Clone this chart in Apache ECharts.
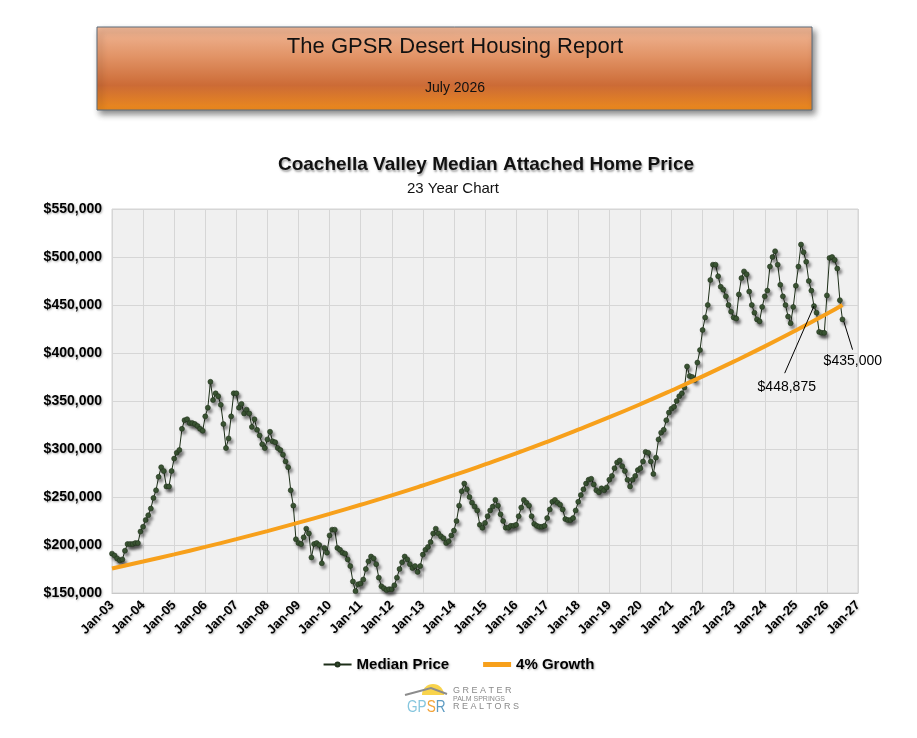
<!DOCTYPE html>
<html>
<head>
<meta charset="utf-8">
<script src="https://cdn.jsdelivr.net/npm/echarts@6/dist/echarts.min.js"></script>
<style>
html,body{margin:0;padding:0;background:#fff;}
#c{width:917px;height:738px;}
</style>
</head>
<body>
<div id="c"></div>
<script>
// ---- data (prices in $ thousands, monthly from Jan-03) ----
const tickLabels = ['Jan-03','Jan-04','Jan-05','Jan-06','Jan-07','Jan-08','Jan-09','Jan-10','Jan-11','Jan-12','Jan-13','Jan-14','Jan-15','Jan-16','Jan-17','Jan-18','Jan-19','Jan-20','Jan-21','Jan-22','Jan-23','Jan-24','Jan-25','Jan-26','Jan-27'];

const median2003_2008 = [
 191,189,186,184,185,194,201,201,201,202,202,214,
 219,226,231,238,249,257,271,281,277,261,261,277,
 290,296,299,321,330,331,327,327,326,324,321,319,
 334,343,370,351,358,355,346,326,301,311,334,358,
 358,343,347,337,341,337,323,331,320,314,305,301,
 310,318,308,307,301,299,294,287,281,257,241,206
];
const median2009_2014 = [
 202,201,208,217,212,187,201,202,200,181,197,192,
 210,216,216,197,195,192,191,185,178,162,152,159,
 160,164,175,183,188,186,180,166,157,155,153,154,
 154,158,166,175,182,188,185,180,176,178,172,178,
 190,195,198,203,212,217,212,209,207,202,204,210,
 215,225,241,256,264,258,250,244,240,236,221,218
];
const median2015_2020 = [
 223,230,236,240,247,241,232,225,218,218,220,220,
 221,230,239,247,244,241,230,222,220,219,219,220,
 228,237,245,247,244,242,237,227,226,226,228,236,
 245,252,258,264,268,269,263,257,255,259,257,260,
 268,272,280,286,288,282,277,268,261,268,272,278,
 280,287,297,296,287,274,291,310,317,320,330,338
];
const median2021_2026 = [
 342,344,350,355,358,364,386,376,375,372,390,403,
 424,437,450,476,492,492,480,469,466,459,450,443,
 437,436,461,478,485,482,464,450,442,435,433,448,
 459,465,490,500,506,492,471,459,450,438,431,448,
 470,490,513,505,495,475,465,448.875,442,422,421,421,
 460,499,500,497,488,455,435
];
const medianPrice = median2003_2008.concat(median2009_2014, median2015_2020, median2021_2026);

const growthMonths = [0,12,24,36,48,60,72,84,96,108,120,132,144,156,168,180,192,204,216,228,240,252,264,276,282];
const growthPrice = [175.6,182.8,190.2,198.0,206.1,214.5,223.3,232.4,241.9,251.7,262.0,272.7,283.9,295.4,307.5,320.1,333.1,346.7,360.9,375.6,391.0,406.9,423.5,440.8,450.0];

const noteTexts = ['$448,875','$435,000'];

// ---- chart ----
const chart = echarts.init(document.getElementById('c'));
const fontBase = "'Liberation Sans', Arial, sans-serif";
const soft = {textShadowColor:'rgba(0,0,0,0.3)', textShadowBlur:2, textShadowOffsetX:1, textShadowOffsetY:1};

const medianData = medianPrice.map((v,i)=>[i, v*1000]);
const growthData = growthMonths.map((m,i)=>[m, growthPrice[i]*1000]);

chart.setOption({
  backgroundColor:'#ffffff',
  animation:false,
  title:[
    {text:'Coachella Valley Median Attached Home Price', left:481, top:150, textAlign:'center',
     textStyle:{fontFamily:fontBase, fontSize:19, fontWeight:'bold', color:'#111',
       textShadowColor:'rgba(0,0,0,0.35)', textShadowBlur:2, textShadowOffsetX:1, textShadowOffsetY:2}},
    {text:'23 Year Chart', left:448, top:176, textAlign:'center',
     textStyle:{fontFamily:fontBase, fontSize:15, fontWeight:'normal', color:'#111'}}
  ],
  grid:{left:112, right:59, top:209, bottom:145, containLabel:false,
        show:true, backgroundColor:'#f0f0f0', borderColor:'#d4d4d4', borderWidth:1},
  xAxis:{
    type:'value', min:0, max:288, interval:12,
    axisLine:{show:true, lineStyle:{color:'#c8c8c8'}},
    axisTick:{show:false},
    splitLine:{show:true, lineStyle:{color:'#d6d6d6', width:1}},
    axisLabel:Object.assign({rotate:45, margin:10, fontFamily:fontBase, fontSize:13, fontWeight:'bold', color:'#000',
      formatter:v=>tickLabels[Math.round(v/12)] || ''}, soft)
  },
  yAxis:{
    type:'value', min:150000, max:550000, interval:50000,
    axisLine:{show:false}, axisTick:{show:false},
    splitLine:{show:true, lineStyle:{color:'#d6d6d6', width:1}},
    axisLabel:Object.assign({margin:10, fontFamily:fontBase, fontSize:14, fontWeight:'bold', color:'#000',
      formatter:v=>'$'+v.toLocaleString('en-US')}, soft)
  },
  legend:{
    data:[{name:'Median Price'}, {name:'4% Growth', icon:'rect'}],
    top:652, left:'center', itemGap:34, itemWidth:28, itemHeight:5,
    textStyle:Object.assign({fontFamily:fontBase, fontSize:15, fontWeight:'bold', color:'#000'}, soft)
  },
  series:[
    {name:'Median Price', type:'line', data:medianData, z:3,
     symbol:'circle', symbolSize:5, showAllSymbol:true,
     lineStyle:{color:'#1d2e18', width:1},
     itemStyle:{color:'#3b5634', borderColor:'#22331d', borderWidth:0.6,
       shadowColor:'rgba(0,0,0,0.45)', shadowBlur:3, shadowOffsetX:2, shadowOffsetY:3}},
    {name:'4% Growth', type:'line', data:growthData, z:4, smooth:true,
     symbol:'none', lineStyle:{color:'#F7A01B', width:4},
     itemStyle:{color:'#F7A01B'}}
  ]
});

// annotation anchors in data units [month index, $]
const noteLayout = [
  {label:[260.5,364000], from:[259.7,379000], to:[271,448875]},
  {label:[286.0,391000], from:[285.9,403500], to:[282.5,433000]}
];
const px = p => chart.convertToPixel({gridIndex:0}, p);

const graphics = [];
// header box
graphics.push({type:'rect', shape:{x:97,y:27,width:715,height:83},
  style:{fill:new echarts.graphic.LinearGradient(0,0,0,1,[
    {offset:0,color:'#F1B898'},{offset:0.35,color:'#E29467'},{offset:0.7,color:'#CC6B36'},{offset:1,color:'#EC8A1C'}]),
    stroke:'#5d6b78', lineWidth:1, shadowColor:'rgba(0,0,0,0.45)', shadowBlur:6, shadowOffsetX:3, shadowOffsetY:4}});
graphics.push({type:'text', x:455, y:47, style:{text:'The GPSR Desert Housing Report', fill:'#111',
  font:"22px 'Liberation Sans', Arial, sans-serif", textAlign:'center', textVerticalAlign:'middle'}});
graphics.push({type:'text', x:455, y:88, style:{text:'July 2026', fill:'#111',
  font:"14px 'Liberation Sans', Arial, sans-serif", textAlign:'center', textVerticalAlign:'middle'}});

// annotations
noteLayout.forEach((n,i)=>{
  const a = px(n.from), b = px(n.to), l = px(n.label);
  graphics.push({type:'line', shape:{x1:a[0],y1:a[1],x2:b[0],y2:b[1]}, style:{stroke:'#000', lineWidth:1}, z:10});
  graphics.push({type:'text', x:l[0], y:l[1], z:10, style:{text:noteTexts[i], fill:'#000',
    font:"14px 'Liberation Sans', Arial, sans-serif", textAlign:'center', textVerticalAlign:'middle'}});
});

// logo
graphics.push({type:'sector', shape:{cx:433, cy:695, r:11, r0:0, startAngle:Math.PI, endAngle:2*Math.PI}, style:{fill:'#F8D34C'}});
graphics.push({type:'polyline', shape:{points:[[405,695],[431,688],[447,694]]}, style:{stroke:'#8c8c8c', lineWidth:2, fill:null}});
graphics.push({type:'text', x:407, y:707, scaleX:0.8, originX:0, originY:0, style:{
  text:'{a|GP}{b|S}{c|R}', textVerticalAlign:'middle',
  rich:{a:{fill:'#86C6DE', font:"17px 'Liberation Sans', Arial"},
        b:{fill:'#F2A43A', font:"17px 'Liberation Sans', Arial"},
        c:{fill:'#5E9CC2', font:"17px 'Liberation Sans', Arial"}}}});
graphics.push({type:'text', x:453, y:691, style:{text:'G R E A T E R', fill:'#8a8a8a', font:"9px 'Liberation Sans', Arial", textVerticalAlign:'middle'}});
graphics.push({type:'text', x:453, y:699, style:{text:'PALM SPRINGS', fill:'#8a8a8a', font:"7px 'Liberation Sans', Arial", textVerticalAlign:'middle'}});
graphics.push({type:'text', x:453, y:707, style:{text:'R E A L T O R S', fill:'#8a8a8a', font:"9px 'Liberation Sans', Arial", textVerticalAlign:'middle'}});

chart.setOption({graphic:graphics});
</script>
</body>
</html>
